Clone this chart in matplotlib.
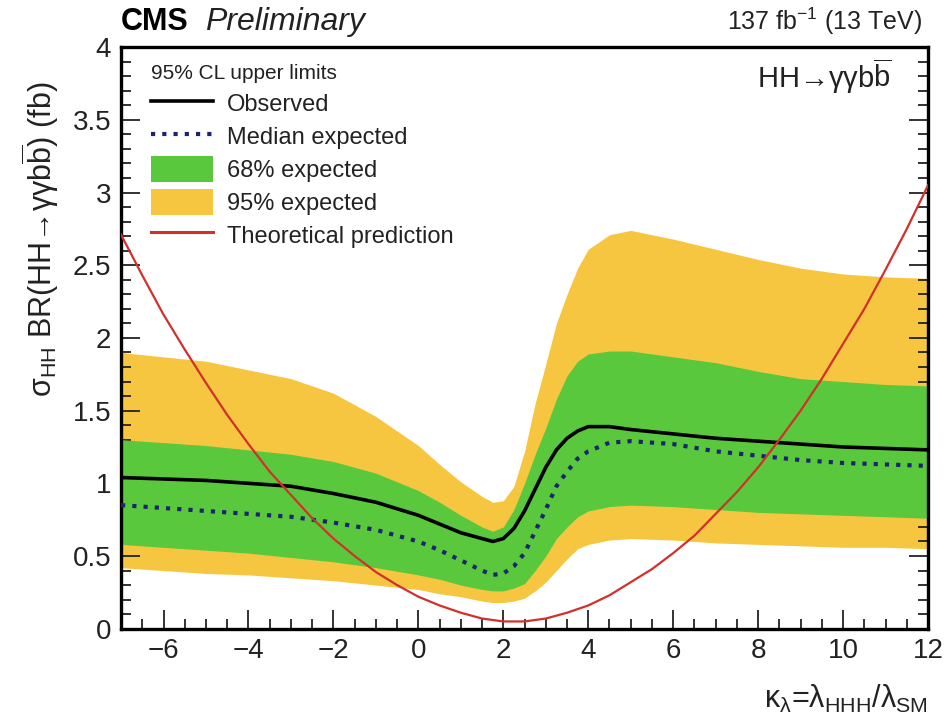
import matplotlib
matplotlib.use("Agg")
import matplotlib.pyplot as plt
from matplotlib.lines import Line2D
from matplotlib.patches import Patch
from matplotlib.ticker import MultipleLocator

plt.rcParams['font.family'] = ['Liberation Sans', 'DejaVu Sans']
plt.rcParams['mathtext.fontset'] = 'custom'
plt.rcParams['mathtext.rm'] = 'Liberation Sans'
plt.rcParams['mathtext.it'] = 'Liberation Sans'
plt.rcParams['mathtext.sf'] = 'Liberation Sans'
plt.rcParams['mathtext.default'] = 'regular'

# kappa_lambda scan points
kl = [-7, -6, -5, -4, -3, -2, -1, 0, 0.5, 1, 1.5, 1.75, 2.0, 2.25, 2.5, 2.75,
      3.0, 3.25, 3.5, 3.75, 4.0, 4.5, 5, 6, 7, 8, 9, 10, 11, 12]

observed = [1.04, 1.03, 1.02, 1.00, 0.98, 0.93, 0.87, 0.78, 0.72, 0.66, 0.62, 0.60,
            0.62, 0.69, 0.81, 0.96, 1.11, 1.23, 1.31, 1.36, 1.39, 1.39, 1.37,
            1.34, 1.31, 1.29, 1.27, 1.25, 1.24, 1.23]
expected = [0.85, 0.83, 0.81, 0.79, 0.77, 0.73, 0.68, 0.60, 0.54, 0.47, 0.40, 0.37,
            0.38, 0.43, 0.52, 0.67, 0.82, 0.98, 1.08, 1.17, 1.22, 1.28, 1.29,
            1.27, 1.22, 1.19, 1.16, 1.14, 1.13, 1.12]
band68_lo = [0.58, 0.56, 0.54, 0.52, 0.49, 0.46, 0.42, 0.37, 0.34, 0.30, 0.27, 0.26,
             0.26, 0.28, 0.31, 0.40, 0.50, 0.62, 0.70, 0.77, 0.81, 0.84, 0.85,
             0.84, 0.82, 0.80, 0.79, 0.78, 0.77, 0.76]
band68_hi = [1.30, 1.28, 1.26, 1.23, 1.20, 1.15, 1.07, 0.95, 0.87, 0.78, 0.70, 0.67,
             0.70, 0.82, 1.00, 1.20, 1.38, 1.58, 1.74, 1.84, 1.89, 1.91, 1.91,
             1.87, 1.83, 1.77, 1.72, 1.70, 1.68, 1.67]
band95_lo = [0.42, 0.40, 0.38, 0.37, 0.35, 0.33, 0.30, 0.27, 0.24, 0.22, 0.19, 0.18,
             0.18, 0.19, 0.21, 0.26, 0.32, 0.40, 0.48, 0.55, 0.58, 0.61, 0.62,
             0.61, 0.59, 0.58, 0.57, 0.56, 0.56, 0.55]
band95_hi = [1.90, 1.87, 1.84, 1.78, 1.72, 1.62, 1.46, 1.26, 1.13, 1.01, 0.91, 0.87,
             0.88, 0.98, 1.22, 1.55, 1.82, 2.10, 2.30, 2.48, 2.61, 2.71, 2.74,
             2.68, 2.61, 2.54, 2.48, 2.44, 2.42, 2.41]

# theoretical prediction
kl_th = [-7, -6.5, -6, -5.5, -5, -4.5, -4, -3.5, -3, -2.5, -2, -1.5, -1, -0.5,
         0, 0.5, 1, 1.5, 2, 2.5, 3, 3.5, 4, 4.5, 5, 5.5, 6, 6.5, 7, 7.5, 8,
         8.5, 9, 9.5, 10, 10.5, 11, 11.5, 12]
theory = [2.71, 2.43, 2.16, 1.92, 1.69, 1.47, 1.27, 1.08, 0.92, 0.76, 0.62, 0.50,
          0.39, 0.30, 0.22, 0.16, 0.11, 0.07, 0.05, 0.05, 0.07, 0.11, 0.16, 0.23,
          0.32, 0.41, 0.52, 0.64, 0.79, 0.94, 1.11, 1.30, 1.50, 1.72, 1.96, 2.20,
          2.47, 2.75, 3.05]

green = '#5ac83c'
yellow = '#f6c641'
red = '#d2302c'
navy = '#1c2470'
ink = '#222222'

fig = plt.figure(figsize=(9.46, 7.26), dpi=100)
ax = fig.add_axes([0.128, 0.134, 0.853, 0.801])

ax.fill_between(kl, band95_lo, band95_hi, color=yellow, lw=0, zorder=1)
ax.fill_between(kl, band68_lo, band68_hi, color=green, lw=0, zorder=2)
ax.plot(kl, expected, color=navy, lw=3, ls=(0, (1, 1.7)), zorder=3)
ax.plot(kl, observed, color='black', lw=2.6, zorder=4)
ax.plot(kl_th, theory, color=red, lw=1.6, zorder=5)

ax.set_xlim(-7, 12)
ax.set_ylim(0, 4)
ax.xaxis.set_major_locator(MultipleLocator(2))
ax.xaxis.set_minor_locator(MultipleLocator(0.5))
ax.yaxis.set_major_locator(MultipleLocator(0.5))
ax.yaxis.set_minor_locator(MultipleLocator(0.1))
ax.yaxis.set_major_formatter(plt.FuncFormatter(lambda v, p: f'{v:g}'))
ax.tick_params(which='both', direction='in', right=True, top=False,
               labelsize=20, width=1.3, colors=ink)
ax.tick_params(which='major', length=14, pad=7)
ax.tick_params(which='minor', length=7)
for s in ax.spines.values():
    s.set_linewidth(2.4)

handles = [
    Line2D([], [], color='black', lw=2.6),
    Line2D([], [], color=navy, lw=3, ls=(0, (1, 1.7))),
    Patch(facecolor=green, edgecolor='none'),
    Patch(facecolor=yellow, edgecolor='none'),
    Line2D([], [], color=red, lw=2.2),
]
labels = ['Observed', 'Median expected', '68% expected', '95% expected',
          'Theoretical prediction']
leg = ax.legend(handles, labels, loc='upper left', bbox_to_anchor=(0.02, 0.995),
                frameon=False, fontsize=17, handlelength=2.6, handleheight=1.3,
                handletextpad=0.6, labelspacing=0.3, borderaxespad=0.2,
                title='95% CL upper limits', title_fontsize=15,
                alignment='left')
for t in leg.get_texts():
    t.set_color(ink)
leg.get_title().set_color(ink)

ax.text(0.955, 0.93, r'HH→γγb$\overline{\mathrm{b}}$',
        transform=ax.transAxes, ha='right', va='baseline', fontsize=21, color=ink)

fig.text(0.128, 0.958, 'CMS', fontsize=22, fontweight='bold', ha='left', va='baseline')
fig.text(0.217, 0.958, 'Preliminary', fontsize=23, style='italic', ha='left',
         va='baseline', color=ink)
fig.text(0.975, 0.958, r'137 fb$^{-1}$ (13 TeV)', fontsize=18, ha='right',
         va='baseline', color=ink)

fig.text(0.043, 0.887,
         r'$\sigma_{\mathrm{HH}}$ BR(HH→γγb$\overline{\mathrm{b}}$) (fb)',
         rotation=90, fontsize=22, ha='center', va='top', color=ink)
fig.text(0.981, 0.025, r'$\kappa_{\lambda}$=$\lambda_{\mathrm{HHH}}$/$\lambda_{\mathrm{SM}}$',
         fontsize=22, ha='right', va='baseline', color=ink)

fig.savefig('out.png', dpi=100)
